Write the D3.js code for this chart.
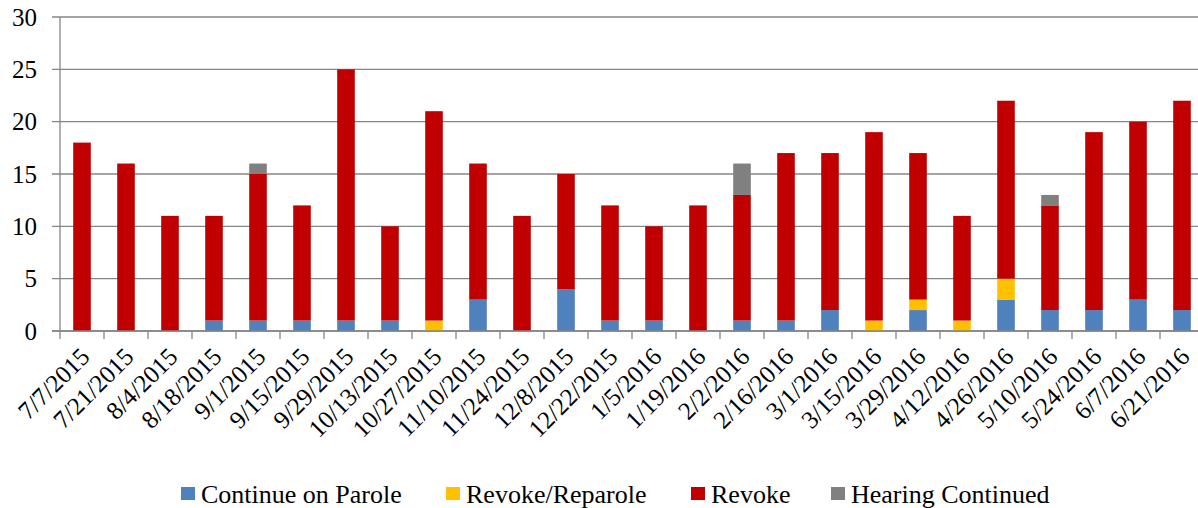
<!DOCTYPE html>
<html>
<head>
<meta charset="utf-8">
<script src="https://cdn.jsdelivr.net/npm/d3@7"></script>
</head>
<body style="margin:0">
<svg id="chart" width="1198" height="508" style="font-family: 'Times New Roman'"></svg>
<script>
// hearing dates
var dates = ["7/7/2015","7/21/2015","8/4/2015","8/18/2015","9/1/2015","9/15/2015","9/29/2015",
  "10/13/2015","10/27/2015","11/10/2015","11/24/2015","12/8/2015","12/22/2015","1/5/2016",
  "1/19/2016","2/2/2016","2/16/2016","3/1/2016","3/15/2016","3/29/2016","4/12/2016",
  "4/26/2016","5/10/2016","5/24/2016","6/7/2016","6/21/2016"];

var continueOnParole = [0,0,0,1,1,1,1,1,0,3,0,4,1,1,0,1,1,2,0,2,0,3,2,2,3,2];
var revokeReparole   = [0,0,0,0,0,0,0,0,1,0,0,0,0,0,0,0,0,0,1,1,1,2,0,0,0,0];
var revoke           = [18,16,11,10,14,11,24,9,20,13,11,11,11,9,12,12,16,15,18,14,10,17,10,17,17,20];
var hearingContinued = [0,0,0,0,1,0,0,0,0,0,0,0,0,0,0,3,0,0,0,0,0,0,1,0,0,0];

var seriesNames = ["Continue on Parole","Revoke/Reparole","Revoke","Hearing Continued"];
var seriesColors = ["#4F81BD","#FFC000","#C00000","#808080"];
var yTicks = [0,5,10,15,20,25,30];

var svg = d3.select("#chart");
var plotLeft = 60, plotRight = 1204, plotTop = 17, plotBottom = 331;

var x = d3.scaleBand().domain(dates).range([plotLeft, plotRight]).paddingInner(0.6).paddingOuter(0.3);
var bounds = d3.scaleBand().domain(dates).range([plotLeft, plotRight]); // tick marks between bars
var y = d3.scaleLinear().domain([0, 30]).range([plotBottom, plotTop]);

// gridlines
svg.append("g").selectAll("line").data(yTicks).enter().append("line")
    .attr("x1", plotLeft - 8).attr("x2", 1198)
    .attr("y1", function(d){ return y(d); }).attr("y2", function(d){ return y(d); })
    .attr("stroke", "#868686").attr("stroke-width", 1.3);

// stacked bars
var rows = dates.map(function(d, i){
  return { date: d, s0: continueOnParole[i], s1: revokeReparole[i], s2: revoke[i], s3: hearingContinued[i] };
});
var layers = d3.stack().keys(["s0","s1","s2","s3"])(rows);

svg.append("g").selectAll("g").data(layers).enter().append("g")
    .attr("fill", function(d, i){ return seriesColors[i]; })
  .selectAll("rect").data(function(d){ return d.filter(function(p){ return p[1] > p[0]; }); })
  .enter().append("rect")
    .attr("x", function(d){ return x(d.data.date); })
    .attr("width", x.bandwidth())
    .attr("y", function(d){ return y(d[1]); })
    .attr("height", function(d){ return y(d[0]) - y(d[1]); });

// y axis line and x axis
svg.append("line").attr("x1", plotLeft).attr("x2", plotLeft).attr("y1", plotTop).attr("y2", plotBottom)
    .attr("stroke", "#868686").attr("stroke-width", 1.3);
svg.append("line").attr("x1", plotLeft - 8).attr("x2", 1198).attr("y1", plotBottom).attr("y2", plotBottom)
    .attr("stroke", "#868686").attr("stroke-width", 1.3);

svg.append("g").selectAll("line").data(dates).enter().append("line")
    .attr("x1", function(d){ return bounds(d); }).attr("x2", function(d){ return bounds(d); })
    .attr("y1", plotBottom).attr("y2", plotBottom + 8)
    .attr("stroke", "#868686").attr("stroke-width", 1.3);

// legend
var legendX = [181, 446, 691, 831];
var legend = svg.append("g").selectAll("g").data(seriesNames).enter().append("g")
    .attr("transform", function(d, i){ return "translate(" + legendX[i] + ",487)"; });
legend.append("rect").attr("width", 14).attr("height", 13)
    .attr("fill", function(d, i){ return seriesColors[i]; });
legend.append("text").attr("x", 20).attr("y", 16)
    .style("font-family", "Times New Roman").style("font-size", "26px")
    .text(function(d){ return d; });

// y axis labels
svg.append("g").selectAll("text").data(yTicks).enter().append("text")
    .attr("x", 37).attr("y", function(d){ return y(d); })
    .attr("dy", "0.35em").attr("text-anchor", "end")
    .style("font-family", "Times New Roman").style("font-size", "25px")
    .text(function(d){ return d; });

// rotated date labels
svg.append("g").selectAll("text").data(dates).enter().append("text")
    .attr("transform", function(d){
      return "translate(" + (x(d) + x.bandwidth() / 2 + 3) + ",352) rotate(-45)";
    })
    .attr("text-anchor", "end").attr("dy", "0.35em")
    .style("font-family", "Times New Roman").style("font-size", "25px")
    .text(function(d){ return d; });
</script>
</body>
</html>
